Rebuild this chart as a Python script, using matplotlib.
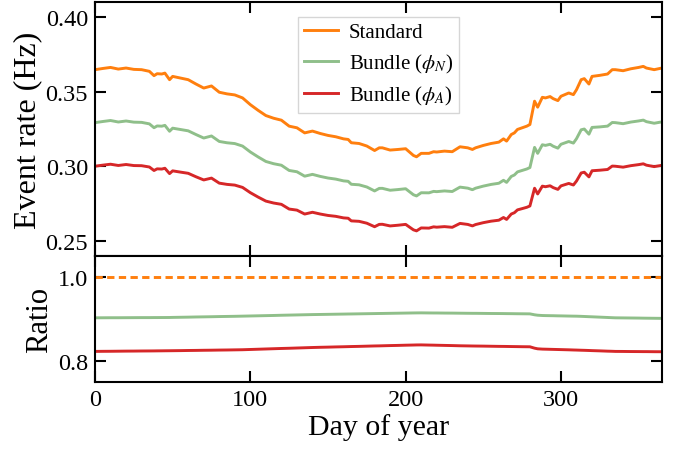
import numpy as np
import matplotlib
matplotlib.use("Agg")
import matplotlib.pyplot as plt

plt.rcParams["font.family"] = ["Liberation Serif", "DejaVu Serif"]
plt.rcParams["mathtext.fontset"] = "stix"

# day of year and standard event rate (Hz)
days = [0, 5, 10, 15, 20, 25, 30, 35, 38, 40,
        43, 45, 48, 50, 55, 60, 65, 70, 75, 80,
        85, 90, 95, 100, 105, 110, 115, 120, 125, 130,
        135, 140, 145, 150, 155, 160, 163, 165, 170, 175,
        180, 183, 185, 190, 195, 200, 205, 207, 210, 215,
        218, 220, 225, 230, 235, 240, 243, 245, 250, 255,
        260, 263, 265, 268, 270, 272, 275, 278, 280, 283,
        285, 288, 290, 293, 295, 298, 300, 305, 308, 310,
        313, 315, 318, 320, 325, 330, 333, 335, 340, 345,
        350, 353, 355, 360, 365]

standard = [0.3647, 0.3655, 0.3662, 0.3651, 0.3658, 0.3649, 0.3647, 0.3636, 0.3607, 0.3620,
            0.3618, 0.3624, 0.3580, 0.3602, 0.3591, 0.3580, 0.3551, 0.3524, 0.3538, 0.3496,
            0.3485, 0.3478, 0.3458, 0.3413, 0.3375, 0.3340, 0.3322, 0.3309, 0.3269, 0.3258,
            0.3224, 0.3236, 0.3220, 0.3207, 0.3198, 0.3184, 0.3180, 0.3158, 0.3153, 0.3136,
            0.3106, 0.3124, 0.3124, 0.3109, 0.3113, 0.3118, 0.3073, 0.3064, 0.3087, 0.3087,
            0.3098, 0.3096, 0.3102, 0.3098, 0.3131, 0.3124, 0.3113, 0.3124, 0.3140, 0.3153,
            0.3162, 0.3184, 0.3169, 0.3213, 0.3224, 0.3247, 0.3258, 0.3269, 0.3280, 0.3436,
            0.3396, 0.3462, 0.3458, 0.3467, 0.3453, 0.3440, 0.3469, 0.3491, 0.3480, 0.3513,
            0.3580, 0.3587, 0.3551, 0.3602, 0.3609, 0.3618, 0.3647, 0.3647, 0.3640, 0.3653,
            0.3662, 0.3669, 0.3658, 0.3647, 0.3658]

# ratio bundle / standard
ratio_N = [0.9028, 0.9029, 0.9030, 0.9030, 0.9031, 0.9032, 0.9033, 0.9033, 0.9034, 0.9034,
           0.9035, 0.9035, 0.9036, 0.9038, 0.9041, 0.9044, 0.9048, 0.9051, 0.9054, 0.9058,
           0.9061, 0.9064, 0.9068, 0.9072, 0.9076, 0.9080, 0.9084, 0.9089, 0.9093, 0.9097,
           0.9101, 0.9105, 0.9108, 0.9111, 0.9114, 0.9117, 0.9119, 0.9120, 0.9123, 0.9126,
           0.9129, 0.9131, 0.9132, 0.9135, 0.9138, 0.9141, 0.9144, 0.9145, 0.9146, 0.9144,
           0.9143, 0.9143, 0.9141, 0.9140, 0.9138, 0.9136, 0.9135, 0.9135, 0.9133, 0.9131,
           0.9130, 0.9129, 0.9128, 0.9127, 0.9126, 0.9125, 0.9124, 0.9123, 0.9122, 0.9100,
           0.9090, 0.9083, 0.9081, 0.9079, 0.9078, 0.9075, 0.9074, 0.9070, 0.9068, 0.9067,
           0.9063, 0.9060, 0.9055, 0.9052, 0.9044, 0.9036, 0.9031, 0.9028, 0.9026, 0.9024,
           0.9022, 0.9020, 0.9019, 0.9017, 0.9015]

ratio_A = [0.8228, 0.8230, 0.8231, 0.8233, 0.8235, 0.8236, 0.8238, 0.8239, 0.8240, 0.8241,
           0.8242, 0.8243, 0.8244, 0.8245, 0.8247, 0.8250, 0.8252, 0.8255, 0.8257, 0.8260,
           0.8262, 0.8265, 0.8268, 0.8274, 0.8280, 0.8286, 0.8292, 0.8298, 0.8303, 0.8309,
           0.8315, 0.8321, 0.8326, 0.8330, 0.8335, 0.8339, 0.8342, 0.8344, 0.8348, 0.8353,
           0.8358, 0.8360, 0.8362, 0.8367, 0.8371, 0.8376, 0.8380, 0.8382, 0.8383, 0.8379,
           0.8377, 0.8375, 0.8371, 0.8367, 0.8362, 0.8359, 0.8357, 0.8356, 0.8354, 0.8351,
           0.8348, 0.8347, 0.8346, 0.8344, 0.8343, 0.8342, 0.8340, 0.8339, 0.8338, 0.8305,
           0.8290, 0.8283, 0.8281, 0.8278, 0.8276, 0.8273, 0.8271, 0.8266, 0.8262, 0.8260,
           0.8256, 0.8254, 0.8250, 0.8247, 0.8241, 0.8234, 0.8231, 0.8228, 0.8227, 0.8225,
           0.8224, 0.8223, 0.8223, 0.8221, 0.8220]

labels = ["Standard", r"Bundle ($\phi_N$)", r"Bundle ($\phi_A$)"]
colors = ["#ff7f0e", "#8fbf8a", "#d62728"]

days = np.array(days)
standard = np.array(standard)
ratio_N = np.array(ratio_N)
ratio_A = np.array(ratio_A)
bundle_N = standard * ratio_N
bundle_A = standard * ratio_A

fig = plt.figure(figsize=(6.81, 4.52), dpi=100)
ax1 = fig.add_axes([0.1395, 0.4314, 0.8325, 0.562])
ax2 = fig.add_axes([0.1395, 0.1527, 0.8325, 0.2787], sharex=ax1)

lw = 2.1
ax1.plot(days, standard, color=colors[0], lw=lw, label=labels[0])
ax1.plot(days, bundle_N, color=colors[1], lw=lw, label=labels[1])
ax1.plot(days, bundle_A, color=colors[2], lw=lw, label=labels[2])
ax1.set_ylim(0.24, 0.41)
ax1.set_yticks([0.25, 0.30, 0.35, 0.40])
ax1.set_ylabel("Event rate (Hz)", fontsize=23, labelpad=2)
leg = ax1.legend(loc="upper center", fontsize=15, fancybox=False,
                 edgecolor="#cccccc", handlelength=1.65, handletextpad=0.5,
                 borderpad=0.3, borderaxespad=0.7, labelspacing=0.45)
leg.get_frame().set_linewidth(1.0)

ax2.plot(days, np.ones_like(standard), color=colors[0], lw=lw, ls=(0, (2.5, 1.5)))
ax2.plot(days, ratio_N, color=colors[1], lw=lw)
ax2.plot(days, ratio_A, color=colors[2], lw=lw)
ax2.set_ylim(0.75, 1.05)
ax2.set_yticks([0.8, 1.0])
ax2.set_ylabel("Ratio", fontsize=22, labelpad=3)
ax2.set_xlim(0, 365)
ax2.set_xticks([0, 100, 200, 300])
ax2.set_xlabel("Day of year", fontsize=21.5, labelpad=2)

for ax in (ax1, ax2):
    ax.tick_params(direction="in", length=8, width=1.5, labelsize=17.5,
                   top=True, right=True, pad=5)
    for sp in ax.spines.values():
        sp.set_linewidth(1.5)
plt.setp(ax1.get_xticklabels(), visible=False)

fig.savefig("out.png", dpi=100)
